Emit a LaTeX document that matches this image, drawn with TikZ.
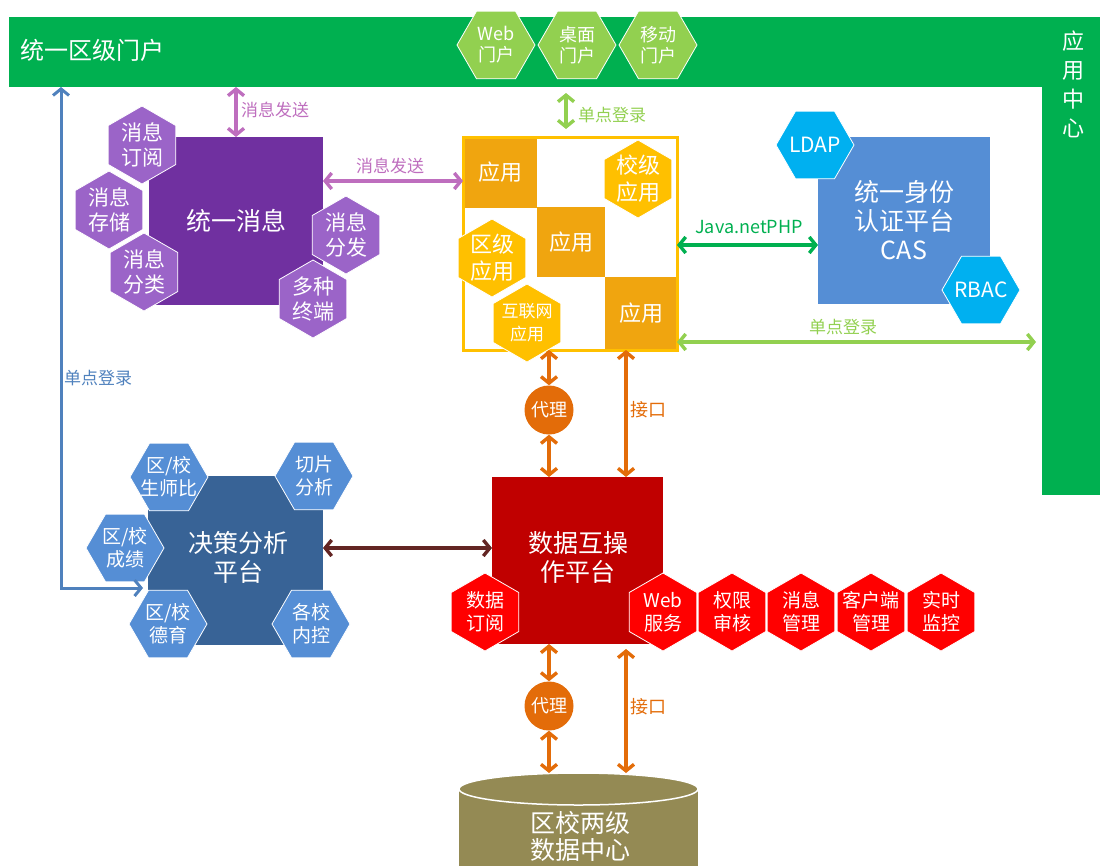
\documentclass[tikz,border=0pt]{standalone}
\usepackage{fontspec}
\setmainfont{Noto Sans CJK SC}
\usetikzlibrary{arrows.meta,calc}
\definecolor{cGreen}{HTML}{00B050}
\definecolor{cLGreen}{HTML}{92D050}
\definecolor{cPurple}{HTML}{7030A0}
\definecolor{cPurpleHex}{RGB}{155,100,200}
\definecolor{cOrchid}{RGB}{190,110,190}
\definecolor{cYellow}{HTML}{FFC000}
\definecolor{cAppSq}{RGB}{240,165,15}
\definecolor{cCAS}{HTML}{558ED5}
\definecolor{cCyan}{HTML}{00B0F0}
\definecolor{cOrange}{HTML}{E36C09}
\definecolor{cDark}{HTML}{C00000}
\definecolor{cRed}{HTML}{FF0000}
\definecolor{cDec}{RGB}{56,99,150}
\definecolor{cBlueHex}{HTML}{558ED5}
\definecolor{cBrown}{HTML}{632523}
\definecolor{cSSO}{HTML}{4F81BD}
\definecolor{cCyl}{HTML}{948A54}
\newcommand\fsz[2]{\fontsize{#1}{#2}\selectfont}
% pointy-top hexagon: name, centre, fill, extra node options, text
\newcommand\hexP[5]{\filldraw[fill=#3,draw=white,line width=0.8pt] (#2) +(90:39) -- +(150:39) -- +(210:39) -- +(270:39) -- +(330:39) -- +(30:39) -- cycle; \node[hext,#4] (#1) at (#2) {#5};}
% flat-top hexagon
\newcommand\hexF[5]{\filldraw[fill=#3,draw=white,line width=0.8pt] (#2) +(0:39) -- +(60:39) -- +(120:39) -- +(180:39) -- +(240:39) -- +(300:39) -- cycle; \node[hext,#4] (#1) at (#2) {#5};}
\tikzset{
  box/.style={rectangle, draw=none, inner sep=0pt, outer sep=0pt},
  hext/.style={text=white, align=center, inner sep=0pt, font=\fsz{19}{23}},
  wtxt/.style={text=white, align=center, inner sep=0pt},
  lbl/.style={inner sep=0pt, font=\fsz{17}{20}},
  dbl/.style={line width=3.4pt, {Straight Barb[length=6.5pt,width=16pt]}-{Straight Barb[length=6.5pt,width=16pt]}},
  proxy/.style={circle, fill=cOrange, minimum size=49pt, inner sep=0pt, text=white, font=\fsz{18}{20}},
}
\begin{document}
\begin{tikzpicture}[x=1pt,y=-1pt]
\useasboundingbox (0,0) rectangle (1100,865);
% portal bar and application centre
\node[box, fill=cGreen, minimum width=1091pt, minimum height=70pt] (portal) at (554.5,52) {};
\node[box, fill=cGreen, minimum width=58pt, minimum height=478pt] (appc) at (1071,256) {};
\node[wtxt, font=\fsz{24}{28}, anchor=west] (portalT) at (20,50) {统一区级门户};
\node[wtxt, font=\fsz{22}{29}] (appcT) at (1073,84) {应\\用\\中\\心};
\hexF{web}{496,45}{cLGreen}{font=\fsz{18}{21}}{Web\\门户}
\hexF{desk}{577,45}{cLGreen}{font=\fsz{18}{21}}{桌面\\门户}
\hexF{mob}{658,45}{cLGreen}{font=\fsz{18}{21}}{移动\\门户}
% unified messaging
\node[box, fill=cPurple, minimum width=174pt, minimum height=168pt, text=white, font=\fsz{25}{29}] (msg) at (236,221) {统一消息};
\hexP{m1}{142,145}{cPurpleHex}{font=\fsz{21}{25}}{消息\\订阅}
\hexP{m2}{109,210}{cPurpleHex}{font=\fsz{21}{25}}{消息\\存储}
\hexP{m3}{144,272}{cPurpleHex}{font=\fsz{21}{25}}{消息\\分类}
\hexP{m4}{346,235}{cPurpleHex}{font=\fsz{21}{25}}{消息\\分发}
\hexP{m5}{313,299}{cPurpleHex}{font=\fsz{21}{25}}{多种\\终端}
% applications
\node[box, fill=cAppSq, minimum width=74pt, minimum height=71pt, text=white, font=\fsz{22}{24}] (a1) at (500,172.5) {应用};
\node[box, fill=cAppSq, minimum width=68pt, minimum height=70pt, text=white, font=\fsz{22}{24}] (a2) at (571,242) {应用};
\node[box, fill=cAppSq, minimum width=72pt, minimum height=73pt, text=white, font=\fsz{22}{24}] (a3) at (641,313.5) {应用};
\node[box, draw=cYellow, line width=3pt, minimum width=214pt, minimum height=213pt] (app) at (570,243.5) {};
\hexP{y1}{638,179}{cYellow}{font=\fsz{22}{27}}{校级\\应用}
\hexP{y2}{492,258}{cYellow}{font=\fsz{22}{27}}{区级\\应用}
\hexP{y3}{527,323}{cYellow}{font=\fsz{17}{23}}{互联网\\应用}
% CAS
\node[box, fill=cCAS, minimum width=172pt, minimum height=167pt, text=white, font=\fsz{25}{29}, align=center] (cas) at (904,220.5) {统一身份\\认证平台\\CAS};
\hexF{ldap}{815,145}{cCyan}{font=\fsz{21}{24}}{LDAP}
\hexF{rbac}{981,290}{cCyan}{font=\fsz{21}{24}}{RBAC}
% data interoperability platform
\node[box, fill=cDark, minimum width=171pt, minimum height=167pt] (data) at (577.5,560.5) {};
\node[wtxt, font=\fsz{25}{29}] (dataT) at (578,557.5) {数据互操\\作平台};
\hexP{r1}{485,612}{cRed}{}{数据\\订阅}
\hexP{r2}{663,612}{cRed}{}{Web\\服务}
\hexP{r3}{732,612}{cRed}{}{权限\\审核}
\hexP{r4}{801,612}{cRed}{}{消息\\管理}
\hexP{r5}{871,612}{cRed}{}{客户端\\管理}
\hexP{r6}{941,612}{cRed}{}{实时\\监控}
% decision analysis
\node[box, fill=cDec, minimum width=175pt, minimum height=169pt] (dec) at (235.5,560.5) {};
\node[wtxt, font=\fsz{25}{29}] (decT) at (238,557.5) {决策分析\\平台};
\hexF{d1}{169,477}{cBlueHex}{}{区/校\\生师比}
\hexF{d2}{314,476}{cBlueHex}{}{切片\\分析}
\hexF{d3}{125,548}{cBlueHex}{}{区/校\\成绩}
\hexF{d4}{168,624}{cBlueHex}{}{区/校\\德育}
\hexF{d5}{311,624}{cBlueHex}{}{各校\\内控}
% data centre cylinder
\coordinate (cylTop) at (578.5,773);
\fill[cCyl] (459,789) -- (459,866) -- (698,866) -- (698,789) -- cycle;
\filldraw[fill=cCyl, draw=white, line width=1.5pt] (578.5,789) ellipse [x radius=119.5pt, y radius=16pt];
\node[wtxt, font=\fsz{25}{27}] (cylT) at (580,836.5) {区校两级\\数据中心};
% proxies
\node[proxy] (px1) at (549,410) {代理};
\node[proxy] (px2) at (549,706) {代理};
% connectors
\draw[dbl, cOrchid] (msg.north) -- (msg.north |- portal.south);
\node[lbl, text=cOrchid, anchor=west] (ms1) at (241,110) {消息发送};
\draw[dbl, cOrchid] (msg.east |- 0,181) -- (app.west |- 0,181);
\node[lbl, text=cOrchid] (ms2) at (390,166) {消息发送};
\draw[dbl, cLGreen, shorten <=6pt, shorten >=8pt] (portal.south -| 566,0) -- (app.north -| 566,0);
\node[lbl, text=cLGreen, anchor=west] (sso1) at (578,115) {单点登录};
\draw[dbl, cGreen] (app.east |- 0,245) -- (cas.west |- 0,245);
\node[lbl, font=\fsz{18}{20}, text=cGreen] (java) at (749,227) {Java.netPHP};
\draw[dbl, cLGreen, shorten >=6pt] (app.east |- 0,342) -- (appc.west |- 0,342);
\node[lbl, text=cLGreen] (sso2) at (843,327) {单点登录};
\draw[dbl, cOrange] (app.south -| px1) -- (px1.north);
\draw[dbl, cOrange] (px1.south) -- (px1.south |- data.north);
\draw[dbl, cOrange] (app.south -| 626,0) -- (data.north -| 626,0);
\node[lbl, font=\fsz{18}{20}, text=cOrange, anchor=west] (if1) at (630,410) {接口};
\draw[dbl, cOrange] (data.south -| px2) -- (px2.north);
\draw[dbl, cOrange] (px2.south) -- (px2.south |- cylTop);
\draw[dbl, cOrange, shorten <=5pt] (data.south -| 626,0) -- (cylTop -| 626,0);
\node[lbl, font=\fsz{18}{20}, text=cOrange, anchor=west] (if2) at (630,707) {接口};
\draw[dbl, cBrown] (dec.east |- 0,548) -- (data.west |- 0,548);
\coordinate (ssoC) at (61,588);
\draw[dbl, cSSO, line width=3pt, shorten >=5pt] (portal.south -| ssoC) -- (ssoC) -- (ssoC -| dec.west);
\node[lbl, text=cSSO, anchor=west] (ssoL) at (64,378) {单点登录};
\end{tikzpicture}
\end{document}
